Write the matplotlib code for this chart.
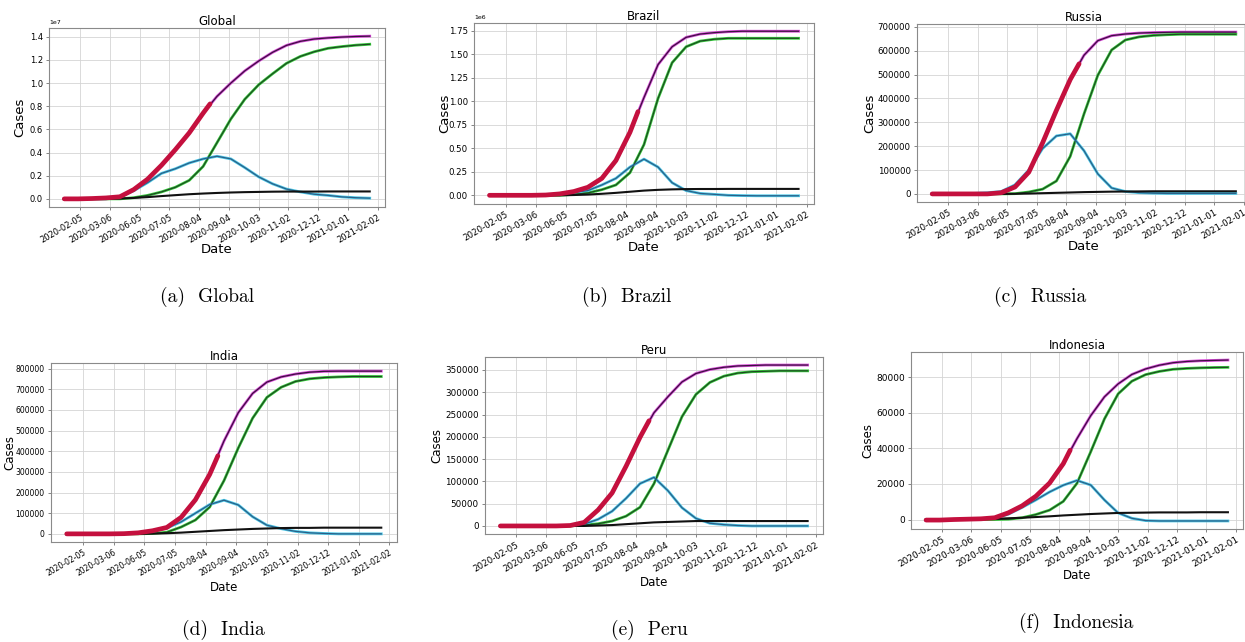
"""
Six-panel SIRD-style fit figure: Global, Brazil, Russia, India, Peru, Indonesia
"""

import matplotlib.pyplot as plt
from matplotlib.ticker import MultipleLocator

W, H = 1245, 642

# days counted from the first tick (2020-02-05), sampled every 14 days
days = [-16, -2, 12, 26, 40, 54, 68, 82, 96, 110, 124, 138, 152, 166, 180,
        194, 208, 222, 236, 250, 264, 278, 292]
tick_days = [0, 30, 60, 90, 120, 150, 180, 210, 240, 270, 300]
tick_labels = ['2020-02-05', '2020-03-06', '2020-06-05', '2020-07-05', '2020-08-04',
               '2020-09-04', '2020-10-03', '2020-11-02', '2020-12-12', '2021-01-01',
               '2021-02-02']
tick_labels_alt = tick_labels[:-1] + ['2021-02-01']

# Global (x 1e7)
global_total = [0, 0, 0.003, 0.008, 0.018, 0.08, 0.17, 0.29, 0.425, 0.57, 0.74, 0.885,
                1.0, 1.105, 1.19, 1.265, 1.325, 1.36, 1.38, 1.39, 1.397, 1.402, 1.405]
global_recovered = [0, 0, 0, 0, 0, 0.01, 0.03, 0.06, 0.1, 0.16, 0.28, 0.485, 0.69, 0.86,
                    0.985, 1.08, 1.17, 1.23, 1.27, 1.3, 1.315, 1.327, 1.335]
global_active = [0, 0, 0, 0, 0.02, 0.07, 0.14, 0.22, 0.26, 0.31, 0.345, 0.368, 0.345,
                 0.27, 0.19, 0.13, 0.085, 0.06, 0.04, 0.03, 0.017, 0.01, 0.006]
global_deaths = [0, 0, 0, 0, 0.003, 0.008, 0.015, 0.024, 0.032, 0.04, 0.046, 0.051, 0.055,
                 0.058, 0.06, 0.062, 0.063, 0.063, 0.063, 0.064, 0.064, 0.064, 0.064]
global_observed_end = (131, 0.82)

# Brazil (x 1e6)
brazil_total = [0, 0, 0, 0, 0.003, 0.015, 0.04, 0.085, 0.18, 0.37, 0.67, 1.04, 1.39,
                1.58, 1.68, 1.715, 1.73, 1.74, 1.745, 1.745, 1.745, 1.745, 1.745]
brazil_recovered = [0, 0, 0, 0, 0, 0, 0.01, 0.025, 0.06, 0.11, 0.24, 0.54, 1.03, 1.41,
                    1.58, 1.64, 1.66, 1.67, 1.67, 1.67, 1.67, 1.67, 1.67]
brazil_active = [0, 0, 0, 0, 0, 0.01, 0.03, 0.05, 0.11, 0.18, 0.3, 0.385, 0.3, 0.134,
                 0.05, 0.02, 0.01, 0, -0.003, -0.005, -0.005, -0.005, -0.005]
brazil_deaths = [0, 0, 0, 0, 0, 0, 0.003, 0.008, 0.016, 0.026, 0.038, 0.05, 0.058, 0.063,
                 0.066, 0.067, 0.067, 0.068, 0.068, 0.068, 0.068, 0.068, 0.068]
brazil_observed_end = (132, 0.89)

# Russia (x 1e5)
russia_total = [0, 0, 0, 0, 0, 0.05, 0.29, 0.91, 2.14, 3.5, 4.79, 5.81, 6.42, 6.63, 6.7,
                6.74, 6.76, 6.77, 6.78, 6.78, 6.78, 6.78, 6.78]
russia_recovered = [0, 0, 0, 0, 0, 0, 0.01, 0.08, 0.2, 0.54, 1.57, 3.35, 4.97, 6.03,
                    6.45, 6.58, 6.64, 6.67, 6.69, 6.69, 6.69, 6.69, 6.69]
russia_active = [0, 0, 0.01, 0.02, 0.05, 0.1, 0.38, 1.0, 1.9, 2.43, 2.52, 1.81, 0.84,
                 0.25, 0.1, 0.05, 0.03, 0.02, 0.02, 0.02, 0.02, 0.02, 0.02]
russia_deaths = [0, 0, 0, 0, 0, 0, 0.005, 0.015, 0.03, 0.045, 0.06, 0.075, 0.085, 0.095,
                 0.1, 0.105, 0.11, 0.11, 0.11, 0.11, 0.11, 0.11, 0.11]
russia_observed_end = (133, 5.45)

# India (x 1e5)
india_total = [0, 0, 0, 0, 0.01, 0.05, 0.15, 0.31, 0.8, 1.65, 2.88, 4.5, 5.87, 6.8,
               7.35, 7.6, 7.74, 7.83, 7.87, 7.88, 7.88, 7.88, 7.88]
india_recovered = [0, 0, 0, 0, 0, 0, 0.02, 0.08, 0.33, 0.67, 1.3, 2.58, 4.16, 5.6, 6.61,
                   7.1, 7.38, 7.51, 7.57, 7.6, 7.62, 7.62, 7.62]
india_active = [0, 0, 0, 0, 0.01, 0.04, 0.12, 0.28, 0.58, 1.0, 1.42, 1.63, 1.4, 0.83,
                0.42, 0.25, 0.12, 0.05, 0.02, 0, 0, 0, 0]
india_deaths = [0, 0, 0, 0, 0, 0, 0.01, 0.03, 0.06, 0.1, 0.14, 0.18, 0.21, 0.24, 0.26,
                0.28, 0.29, 0.29, 0.3, 0.3, 0.3, 0.3, 0.3]
india_observed_end = (132, 3.78)

# Peru (x 1e5)
peru_total = [0, 0, 0, 0, 0, 0.01, 0.08, 0.36, 0.74, 1.34, 1.99, 2.54, 2.9, 3.23, 3.42,
              3.51, 3.56, 3.59, 3.6, 3.61, 3.61, 3.61, 3.61]
peru_recovered = [0, 0, 0, 0, 0, 0, 0.02, 0.05, 0.11, 0.22, 0.42, 0.95, 1.7, 2.45, 2.95,
                  3.22, 3.36, 3.43, 3.46, 3.47, 3.48, 3.48, 3.48]
peru_active = [0, 0, 0, 0, 0, 0.01, 0.04, 0.15, 0.33, 0.62, 0.95, 1.09, 0.79, 0.41,
               0.17, 0.06, 0.03, 0.01, 0, 0, 0, 0, 0]
peru_deaths = [0, 0, 0, 0, 0, 0, 0, 0.01, 0.02, 0.04, 0.06, 0.08, 0.09, 0.1, 0.11, 0.11,
               0.11, 0.11, 0.11, 0.11, 0.11, 0.11, 0.11]
peru_observed_end = (133, 2.36)

# Indonesia (x 1e4)
indonesia_total = [-0.03, -0.03, 0, 0.02, 0.04, 0.1, 0.38, 0.77, 1.31, 2.05, 3.14, 4.55,
                   5.84, 6.9, 7.63, 8.16, 8.47, 8.68, 8.82, 8.89, 8.93, 8.95, 8.97]
indonesia_recovered = [0, 0, 0, 0, 0, 0, 0.02, 0.1, 0.28, 0.53, 1.02, 2.04, 3.81, 5.66,
                       7.07, 7.78, 8.15, 8.33, 8.45, 8.5, 8.53, 8.55, 8.56]
indonesia_active = [-0.03, -0.03, 0, 0.02, 0.04, 0.08, 0.3, 0.68, 1.1, 1.55, 1.93, 2.2,
                    1.94, 1.1, 0.37, 0.07, -0.06, -0.08, -0.08, -0.08, -0.08, -0.08, -0.08]
indonesia_deaths = [0, 0, 0, 0, 0.02, 0.04, 0.07, 0.1, 0.14, 0.18, 0.23, 0.27, 0.31,
                    0.34, 0.37, 0.38, 0.39, 0.4, 0.4, 0.4, 0.41, 0.41, 0.41]
indonesia_observed_end = (131, 3.9)


def stroke(ax, x, y, outer, inner):
    # light halo + dark core, as in the original rendering
    ax.plot(x, y, color=outer, lw=2.0, zorder=3)
    ax.plot(x, y, color=inner, lw=0.9, zorder=4)


def draw_panel(fig, box, title, scale, total, recovered, active, deaths, observed_end,
               labels, ystep, caption, caption_xy, tick_size, label_size, ylab_x, xlab_top):
    l, t, r, b = box
    ax = fig.add_axes([l / W, 1 - b / H, (r - l) / W, (b - t) / H])

    y = lambda vals: [v * scale for v in vals]
    stroke(ax, days, y(total), '#d84ad8', '#3b123f')
    stroke(ax, days, y(recovered), '#38cc3e', '#1d4a22')
    stroke(ax, days, y(active), '#4cc8e6', '#2b5f88')
    ax.plot(days, y(deaths), color='#111111', lw=1.5, zorder=4)

    # observed cumulative cases (thick red)
    n_obs = sum(d < observed_end[0] for d in days)
    obs_x = days[:n_obs] + [observed_end[0]]
    obs_y = total[:n_obs] + [observed_end[1]]
    ax.plot(obs_x, y(obs_y), color='#c4103e', lw=3.4, zorder=5, solid_capstyle='round')

    ax.set_xticks(tick_days)
    ax.set_xticklabels(labels, rotation=30, ha='right', rotation_mode='anchor')
    ax.yaxis.set_major_locator(MultipleLocator(ystep))
    ax.tick_params(labelsize=tick_size, length=2.5, width=0.6, color='#707070', pad=2)
    ax.yaxis.get_offset_text().set_fontsize(4.5)
    ax.grid(True, color='#d4d4d4', lw=0.6)
    for sp in ax.spines.values():
        sp.set_color('#8a8a8a')
        sp.set_linewidth(0.8)

    ax.set_title(title, fontsize=8.5, pad=2.5)
    ax.set_xlabel('Date', fontsize=label_size)
    ax.set_ylabel('Cases', fontsize=label_size)
    # place axis labels where the reference has them (pixel positions)
    ax.yaxis.set_label_coords((ylab_x - l) / (r - l), 0.5)
    ax.xaxis.set_label_coords(0.5, -(xlab_top - b) / (b - t))

    fig.text(caption_xy[0] / W, 1 - caption_xy[1] / H, caption, ha='center', va='center',
             fontsize=14, fontfamily='cmr10')
    return ax


fig = plt.figure(figsize=(W / 100, H / 100), dpi=100)

draw_panel(fig, (49, 28, 385, 207), 'Global', 1e7, global_total, global_recovered,
           global_active, global_deaths, global_observed_end, tick_labels, 0.2e7,
           '(a)  Global', (207, 297), 6.0, 9.5, 26, 243)
draw_panel(fig, (474, 23, 814, 204), 'Brazil', 1e6, brazil_total, brazil_recovered,
           brazil_active, brazil_deaths, brazil_observed_end, tick_labels, 0.25e6,
           '(b)  Brazil', (627, 297), 6.2, 9.5, 451, 241)
draw_panel(fig, (917, 24, 1251, 202), 'Russia', 1e5, russia_total, russia_recovered,
           russia_active, russia_deaths, russia_observed_end, tick_labels_alt, 1e5,
           '(c)  Russia', (1040, 297), 6.2, 9.5, 876, 240)
draw_panel(fig, (51, 363, 397, 542), 'India', 1e5, india_total, india_recovered,
           india_active, india_deaths, india_observed_end, tick_labels, 1e5,
           '(d)  India', (223, 630), 5.5, 8.5, 16, 581)
draw_panel(fig, (485, 357, 823, 534), 'Peru', 1e5, peru_total, peru_recovered,
           peru_active, peru_deaths, peru_observed_end, tick_labels, 0.5e5,
           '(e)  Peru', (649, 630), 6.3, 8.5, 443, 576)
draw_panel(fig, (911, 352, 1243, 529), 'Indonesia', 1e4, indonesia_total,
           indonesia_recovered, indonesia_active, indonesia_deaths,
           indonesia_observed_end, tick_labels_alt, 2e4, '(f)  Indonesia', (1076, 623),
           6.5, 8.5, 874, 569)

plt.savefig('out.png', dpi=100)
